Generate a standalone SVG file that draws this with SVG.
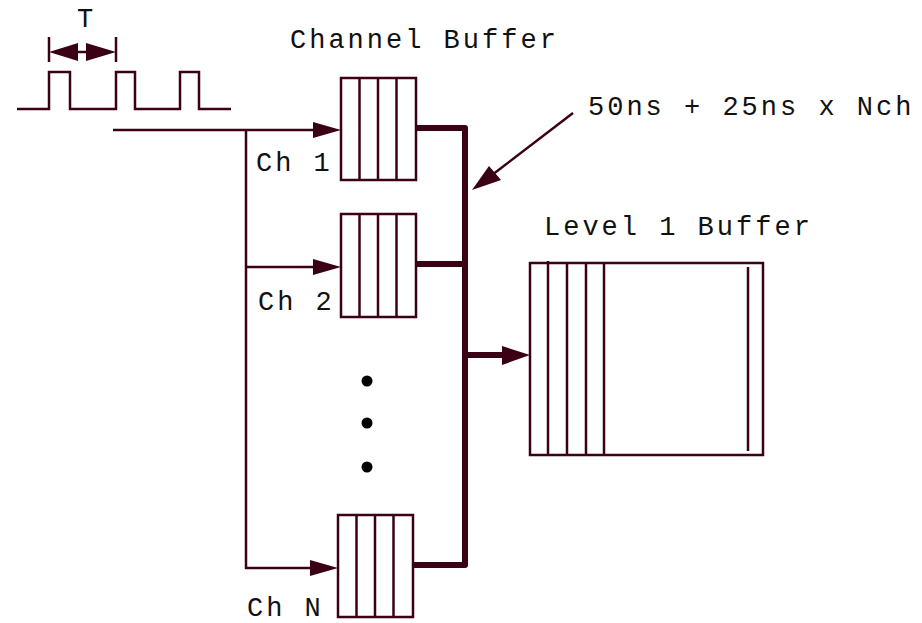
<svg xmlns="http://www.w3.org/2000/svg" width="922" height="623" viewBox="0 0 922 623">
<style>
.t{font-family:"Liberation Mono","Courier New",monospace;font-size:27px;letter-spacing:3px;fill:#111}
.ln{stroke:#3a0014;stroke-width:2.5;fill:none}
.thin{stroke:#3a0014;stroke-width:2;fill:none}
.bus{stroke:#3a0014;stroke-width:6;fill:none;stroke-linejoin:round}
.box{stroke:#3a0014;stroke-width:2.5;fill:#fff}
.ah{fill:#3a0014}
</style>
<rect width="922" height="623" fill="#fff"/>
<g id="pulse-train">
<polyline class="ln" points="17,109 49,109 49,72 70,72 70,109 116,109 116,72 135,72 135,109 180,109 180,72 199,72 199,109 231,109"/>
<line class="ln" x1="49" y1="37" x2="49" y2="62"/>
<line class="ln" x1="116" y1="37" x2="116" y2="62"/>
<line class="ln" x1="78" y1="52" x2="87" y2="52"/>
<polygon class="ah" points="49,52 78,43 78,61"/>
<polygon class="ah" points="116,52 86,43 86,61"/>
<text class="t" x="77" y="27">T</text>
</g>
<g id="connectors">
<polyline class="ln" points="113,130 313,130"/>
<polyline class="ln" points="246,130 246,568 310,568"/>
<line class="ln" x1="246" y1="267" x2="313" y2="267"/>
<polygon class="ah" points="341,130 313,122 313,138"/>
<polygon class="ah" points="341,267 313,259 313,275"/>
<polygon class="ah" points="338,568 310,560 310,576"/>
<polyline class="bus" points="416,128 465,128 465,565 413,565"/>
<line class="bus" x1="416" y1="264" x2="465" y2="264"/>
<line class="bus" x1="465" y1="355" x2="503" y2="355"/>
<polygon class="ah" points="530,355 502,346 502,365"/>
<line class="ln" x1="573" y1="113" x2="492" y2="175"/>
<polygon class="ah" points="472,190 489,166 501,180"/>
</g>
<g id="ch1-buffer">
<rect class="box" x="341" y="78" width="75" height="102"/>
<line class="ln" x1="359.5" y1="78" x2="359.5" y2="180"/>
<line class="ln" x1="378" y1="78" x2="378" y2="180"/>
<line class="ln" x1="396.5" y1="78" x2="396.5" y2="180"/>
<text class="t" x="256" y="171">Ch 1</text>
</g>
<g id="ch2-buffer">
<rect class="box" x="341" y="214" width="75" height="103"/>
<line class="ln" x1="359.5" y1="214" x2="359.5" y2="317"/>
<line class="ln" x1="378" y1="214" x2="378" y2="317"/>
<line class="ln" x1="396.5" y1="214" x2="396.5" y2="317"/>
<text class="t" x="258" y="310">Ch 2</text>
</g>
<g id="chN-buffer">
<rect class="box" x="338" y="515" width="75" height="102"/>
<line class="ln" x1="356.5" y1="515" x2="356.5" y2="617"/>
<line class="ln" x1="375" y1="515" x2="375" y2="617"/>
<line class="ln" x1="393.5" y1="515" x2="393.5" y2="617"/>
<text class="t" x="247" y="616">Ch N</text>
</g>
<g id="dots">
<circle cx="367" cy="381" r="5.5" fill="#000"/>
<circle cx="367" cy="423" r="5.5" fill="#000"/>
<circle cx="367" cy="467" r="5.5" fill="#000"/>
</g>
<g id="level1-buffer">
<rect class="box" x="530" y="263" width="233" height="192"/>
<line class="ln" x1="548" y1="261" x2="548" y2="455"/>
<line class="ln" x1="567" y1="263" x2="567" y2="455"/>
<line class="ln" x1="586" y1="263" x2="586" y2="455"/>
<line class="ln" x1="604" y1="263" x2="604" y2="455"/>
<line class="ln" x1="748" y1="267" x2="748" y2="451"/>
<text class="t" x="544" y="235">Level 1 Buffer</text>
</g>
<g id="labels">
<text class="t" x="290" y="48">Channel Buffer</text>
<text class="t" x="588" y="115">50ns + 25ns x Nch</text>
</g>
</svg>
